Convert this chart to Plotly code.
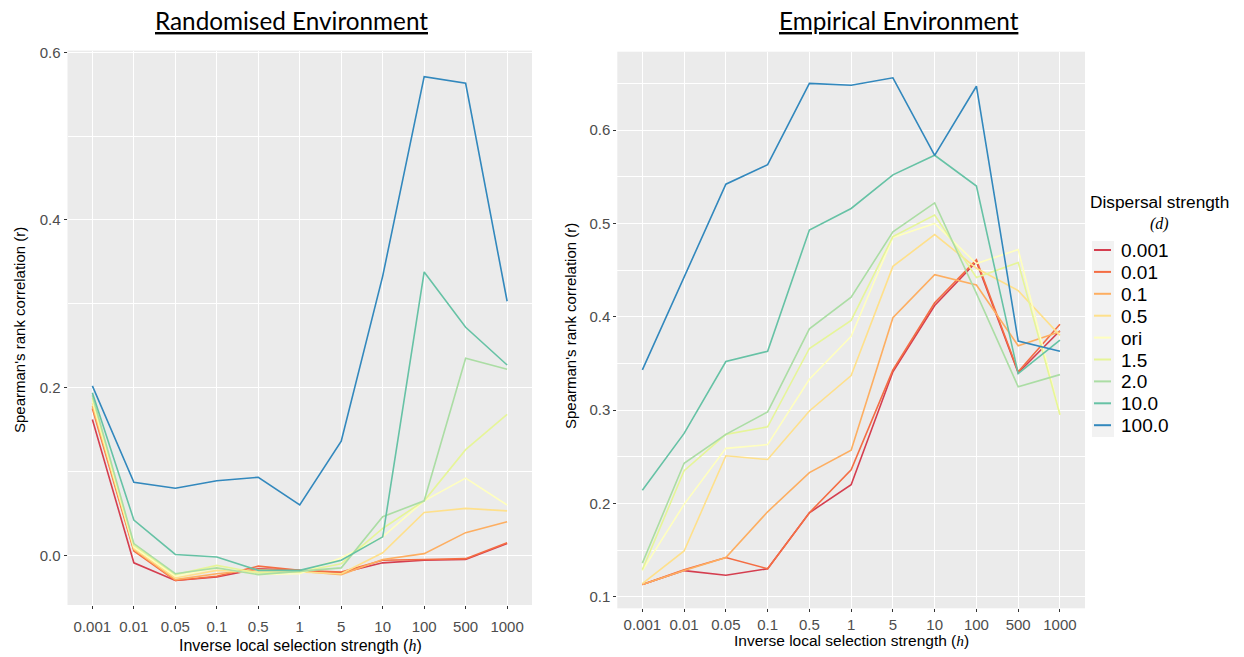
import plotly.graph_objects as go

# ---------------- data ----------------
h_labels = ["0.001", "0.01", "0.05", "0.1", "0.5", "1", "5", "10", "100", "500", "1000"]
d_labels = ["0.001", "0.01", "0.1", "0.5", "ori", "1.5", "2.0", "10.0", "100.0"]
colors = ["#D53E4F", "#F46D43", "#FDAE61", "#FEE08B", "#FFFFBF",
          "#E6F598", "#ABDDA4", "#66C2A5", "#3288BD"]

# Randomised environment
rand_0001 = [0.162, -0.009, -0.030, -0.026, -0.016, -0.018, -0.021, -0.009, -0.006, -0.005, 0.014]
rand_001 = [0.175, 0.005, -0.030, -0.025, -0.013, -0.018, -0.020, -0.006, -0.005, -0.004, 0.015]
rand_01 = [0.178, 0.007, -0.029, -0.022, -0.017, -0.019, -0.023, -0.005, 0.002, 0.027, 0.040]
rand_05 = [0.182, 0.008, -0.027, -0.018, -0.020, -0.020, -0.022, 0.003, 0.051, 0.056, 0.053]
rand_ori = [0.185, 0.010, -0.025, -0.015, -0.023, -0.022, -0.003, 0.022, 0.065, 0.092, 0.060]
rand_15 = [0.188, 0.012, -0.023, -0.012, -0.021, -0.020, -0.010, 0.032, 0.065, 0.126, 0.168]
rand_20 = [0.191, 0.014, -0.022, -0.015, -0.023, -0.019, -0.015, 0.046, 0.065, 0.235, 0.222]
rand_10 = [0.194, 0.042, 0.001, -0.002, -0.018, -0.018, -0.006, 0.022, 0.338, 0.272, 0.227]
rand_100 = [0.202, 0.087, 0.080, 0.089, 0.093, 0.060, 0.136, 0.333, 0.571, 0.563, 0.303]

# Empirical environment
emp_0001 = [0.113, 0.128, 0.123, 0.130, 0.190, 0.220, 0.341, 0.412, 0.459, 0.340, 0.385]
emp_001 = [0.113, 0.129, 0.142, 0.130, 0.190, 0.236, 0.343, 0.415, 0.461, 0.341, 0.392]
emp_01 = [0.113, 0.128, 0.142, 0.191, 0.233, 0.257, 0.399, 0.445, 0.434, 0.369, 0.384]
emp_05 = [0.114, 0.149, 0.251, 0.247, 0.299, 0.337, 0.454, 0.488, 0.452, 0.428, 0.380]
emp_ori = [0.128, 0.199, 0.259, 0.263, 0.333, 0.379, 0.485, 0.500, 0.457, 0.472, 0.295]
emp_15 = [0.129, 0.235, 0.274, 0.282, 0.366, 0.396, 0.486, 0.509, 0.442, 0.458, 0.295]
emp_20 = [0.136, 0.243, 0.274, 0.298, 0.387, 0.421, 0.491, 0.522, 0.425, 0.325, 0.338]
emp_10 = [0.214, 0.275, 0.352, 0.363, 0.493, 0.516, 0.552, 0.573, 0.540, 0.339, 0.375]
emp_100 = [0.343, 0.443, 0.542, 0.563, 0.650, 0.648, 0.656, 0.573, 0.647, 0.374, 0.363]

rand_series = [rand_0001, rand_001, rand_01, rand_05, rand_ori, rand_15, rand_20, rand_10, rand_100]
emp_series = [emp_0001, emp_001, emp_01, emp_05, emp_ori, emp_15, emp_20, emp_10, emp_100]

# ---------------- figure ----------------
W, H = 1244, 657
fig = go.Figure()

for name, col, ys in zip(d_labels, colors, rand_series):
    fig.add_trace(go.Scatter(x=h_labels, y=ys, mode="lines", name=name,
                             line=dict(color=col, width=1.6),
                             legendgroup=name, showlegend=False,
                             xaxis="x", yaxis="y"))
for name, col, ys in zip(d_labels, colors, emp_series):
    fig.add_trace(go.Scatter(x=h_labels, y=ys, mode="lines", name=name,
                             line=dict(color=col, width=1.6),
                             legendgroup=name, showlegend=False,
                             xaxis="x2", yaxis="y2"))

SANS = "Liberation Sans, Arial, sans-serif"
tickfont = dict(family=SANS, size=15, color="#4D4D4D")


def px_x(p):
    return p / W


def px_y(p):
    return 1 - p / H


xcommon = dict(type="category", categoryorder="array", categoryarray=h_labels,
               range=[-0.6, 10.6], showgrid=True, gridcolor="white", gridwidth=1.1,
               ticks="outside", ticklen=3, tickcolor="#333333", tickwidth=1,
               showline=False, zeroline=False, tickfont=tickfont, automargin=False)
ycommon = dict(showgrid=True, gridcolor="white", gridwidth=1.1,
               ticks="outside", ticklen=3, tickcolor="#333333", tickwidth=1,
               showline=False, zeroline=False, tickfont=tickfont, automargin=False,
               tickformat=".1f")

fig.update_layout(
    width=W, height=H,
    margin=dict(l=0, r=0, t=0, b=0),
    paper_bgcolor="white",
    plot_bgcolor="#EBEBEB",
    xaxis=dict(domain=[px_x(67.5), px_x(532)], anchor="y", ticklabelstandoff=5, **xcommon),
    yaxis=dict(domain=[px_y(605), px_y(50.6)], anchor="x",
               range=[-0.0593, 0.602], dtick=0.2, tick0=0,
               minor=dict(dtick=0.1, tick0=0, showgrid=True, gridcolor="white", gridwidth=0.5, ticks=""),
               **ycommon),
    xaxis2=dict(domain=[px_x(617.3), px_x(1085)], anchor="y2", **xcommon),
    yaxis2=dict(domain=[px_y(608.3), px_y(51.7)], anchor="x2",
                range=[0.0876, 0.684], dtick=0.1, tick0=0,
                minor=dict(dtick=0.05, tick0=0, showgrid=True, gridcolor="white", gridwidth=0.5, ticks=""),
                **ycommon),
    showlegend=False,
)

# ---------------- legend (drawn from d_labels / colors) ----------------
LEG_TOP, LEG_STEP = 250.0, 21.9
fig.add_shape(type="rect", xref="paper", yref="paper",
              x0=px_x(1092), x1=px_x(1114), y0=px_y(437), y1=px_y(241),
              fillcolor="#F2F2F2", line=dict(width=0), layer="below")
for i, (name, col) in enumerate(zip(d_labels, colors)):
    yc = LEG_TOP + i * LEG_STEP
    fig.add_shape(type="line", xref="paper", yref="paper",
                  x0=px_x(1094), x1=px_x(1111), y0=px_y(yc), y1=px_y(yc),
                  line=dict(color=col, width=2))
    fig.add_annotation(text=name, xref="paper", yref="paper", x=px_x(1119), y=px_y(yc + 0.5),
                       xanchor="left", yanchor="middle", showarrow=False,
                       font=dict(family=SANS, size=19, color="black"))

TITLEFONT = dict(family="Lato, Open Sans, sans-serif", size=24.3, color="black", lineposition="under")
hspan = "<span style=\"font-family:'Liberation Serif', serif; font-style:italic\">h</span>"
dspan = "<span style=\"font-family:'Liberation Serif', serif; font-style:italic\">(d)</span>"

annotations = [
    dict(text="Randomised Environment", x=px_x(291), y=px_y(20), font=TITLEFONT),
    dict(text="Empirical Environment", x=px_x(899), y=px_y(20), font=TITLEFONT),
    dict(text="Inverse local selection strength (" + hspan + ")", x=px_x(300), y=px_y(645),
         font=dict(family=SANS, size=16, color="black")),
    dict(text="Inverse local selection strength (" + hspan + ")", x=px_x(851), y=px_y(640),
         font=dict(family=SANS, size=15.5, color="black")),
    dict(text="Spearman's rank correlation (r)", x=px_x(19), y=px_y(330), textangle=-90,
         font=dict(family=SANS, size=15, color="black")),
    dict(text="Spearman's rank correlation (r)", x=px_x(570), y=px_y(326), textangle=-90,
         font=dict(family=SANS, size=15, color="black")),
    dict(text="Dispersal strength", x=px_x(1159.5), y=px_y(202),
         font=dict(family=SANS, size=17.3, color="black")),
    dict(text=dspan, x=px_x(1159), y=px_y(224),
         font=dict(size=16, color="black")),
]
for a in annotations:
    a.update(xref="paper", yref="paper", showarrow=False, xanchor="center", yanchor="middle")
    fig.add_annotation(**a)

fig.write_html("out.html")
